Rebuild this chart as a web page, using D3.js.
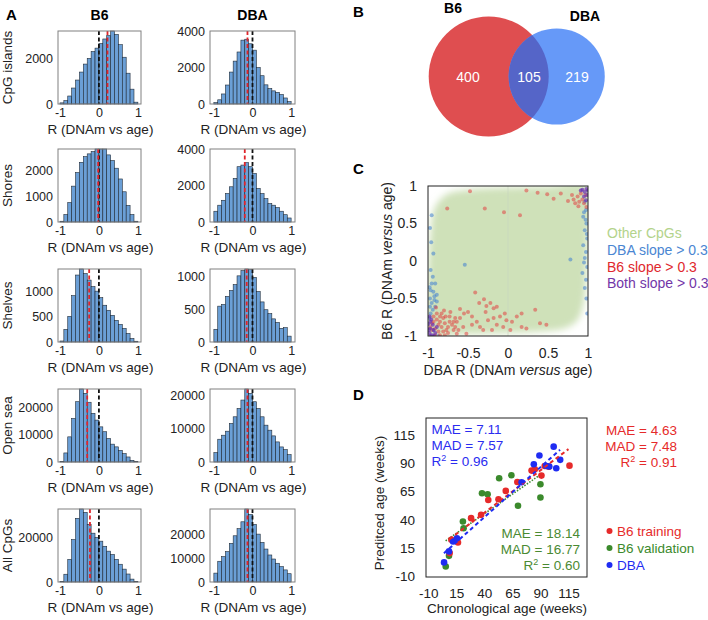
<!DOCTYPE html>
<html><head><meta charset="utf-8">
<script src="https://cdn.jsdelivr.net/npm/d3@7"></script>
<style>
body{margin:0;background:#fff;}
svg{font-family:"Liberation Sans",Arial,sans-serif;}
</style></head><body>
<svg id="fig" width="708" height="620"></svg>
<script>
// ---------------- DATA ----------------
// Panel A: histogram bins (R from -1 to 1, width 0.1)
const binStarts = [-1,-0.9,-0.8,-0.7,-0.6,-0.5,-0.4,-0.3,-0.2,-0.1,0,0.1,0.2,0.3,0.4,0.5,0.6,0.7,0.8,0.9];
const binWidth = 0.1;
const regionNames = ["CpG islands","Shores","Shelves","Open sea","All CpGs"];
const strainNames = ["B6","DBA"];

const b6CpGIslands = [50,150,350,700,1050,1400,1750,2000,2300,2450,2650,2850,3000,3200,3050,2600,2050,1350,650,80];
const dbaCpGIslands = [75,230,550,1040,1750,2350,2850,3500,3550,3300,2950,2000,1550,1050,850,720,640,520,330,130];
const b6Shores = [30,290,760,1400,1930,2330,2550,2660,2750,2850,2850,2850,2620,2400,2100,1680,1180,650,290,30];
const dbaShores = [590,920,1190,1560,1930,2390,3030,3120,3250,3030,2660,1840,1560,1280,1010,920,790,590,400,220];
const b6Shelves = [20,250,510,920,1330,1450,1360,1230,1100,1010,880,730,630,530,430,350,270,170,70,15];
const dbaShelves = [195,550,575,700,790,880,1015,1095,1120,1110,990,775,615,495,435,355,300,210,220,90];
const b6OpenSea = [250,3350,9300,16100,22300,27000,25400,22100,18000,15500,13000,11200,8700,6600,5600,4300,3100,1860,620,120];
const dbaOpenSea = [2800,6800,8000,9200,11500,13500,16000,18500,21800,20500,18000,16000,13500,11000,9500,7800,6000,4500,3700,2200];
const b6AllCpGs = [300,3500,10200,19100,28700,32900,31400,26000,22000,20100,18400,16100,13900,12400,10200,8000,5800,3600,1300,300];
const dbaAllCpGs = [3750,8750,10700,12800,16300,19500,22500,25400,30800,28500,24300,20200,16700,13900,11400,9700,7900,6500,5100,3500];

const b6Counts = [b6CpGIslands,b6Shores,b6Shelves,b6OpenSea,b6AllCpGs];
const dbaCounts = [dbaCpGIslands,dbaShores,dbaShelves,dbaOpenSea,dbaAllCpGs];
const b6YMax = [3200,2850,1450,27000,32900];
const dbaYMax = [4000,4000,1120,21800,30800];
const b6YTicks = [[0,2000],[0,1000,2000],[0,500,1000],[0,10000,20000],[0,20000]];
const dbaYTicks = [[0,2000,4000],[0,2000,4000],[0,500,1000],[0,10000,20000],[0,10000,20000]];
const histXTicks = [-1,0,1];
const b6Medians = [0.22,-0.02,-0.25,-0.3,-0.23];
const dbaMedians = [-0.13,-0.2,-0.15,-0.13,-0.13];
const nullLine = 0;

// Panel B: Venn counts
const vennLabels = ["B6","DBA"];
const vennCounts = [400,105,219];

// Panel C: scatter
const cTicks = [-1,-0.5,0,0.5,1];
const cloudOutline = [[-1.0,-1.0],[-0.6,-0.98],[0,-0.96],[0.4,-0.94],[0.7,-0.9],[0.86,-0.8],[0.95,-0.55],[0.98,-0.2],[1.0,0.3],[1.0,1.0],[0.5,0.99],[0,0.98],[-0.5,0.95],[-0.78,0.88],[-0.92,0.7],[-0.97,0.35],[-1.0,-0.2]];
const redPts = [[-0.76,0.70],[-0.475,0.93],[-0.29,0.70],[-0.05,0.65],[0.15,0.61],[0.23,0.94],[0.37,0.91],[0.49,0.89],[0.57,0.83],[0.66,0.90],[0.75,0.80],[0.80,0.88],[0.84,0.77],[0.87,0.86],[0.89,0.79],[0.91,0.90],[0.93,0.82],[0.95,0.77],[0.97,0.88],[0.98,0.72],[0.88,0.73],[0.82,0.82],
[-0.41,-0.42],[-0.36,-0.56],[-0.30,-0.51],[-0.27,-0.60],[-0.22,-0.56],[-0.18,-0.63],[-0.14,-0.61],[-0.28,-0.68],[-0.50,-0.68],[-0.45,-0.74],[-0.55,-0.70],[-0.60,-0.76],[-0.64,-0.81],[-0.66,-0.88],[-0.62,-0.92],[-0.56,-0.88],[-0.45,-0.85],[-0.39,-0.81],[-0.35,-0.88],[-0.25,-0.79],[-0.18,-0.76],[-0.10,-0.74],[-0.04,-0.70],[-0.02,-0.79],[0.05,-0.81],[-0.14,-0.85],[-0.20,-0.92],[-0.06,-0.88],[0.11,-0.74],[0.17,-0.70],[0.34,-0.65],[0.40,-0.83],[0.48,-0.85],[0.23,-0.90],[0.17,-0.88],[0.03,-0.92],[-0.31,-0.92],[-0.52,-0.97],[-0.64,-0.97],
[-0.93,-0.74],[-0.89,-0.78],[-0.85,-0.81],[-0.81,-0.76],[-0.87,-0.85],[-0.83,-0.88],[-0.79,-0.83],[-0.75,-0.88],[-0.91,-0.90],[-0.87,-0.94],[-0.81,-0.94],[-0.77,-0.92],[-0.73,-0.81],[-0.70,-0.85],[-0.68,-0.92],[-0.95,-0.83],[-0.95,-0.92],[-0.91,-0.99],[-0.85,-0.99],[-0.79,-0.99],[-0.75,-0.96],[-0.89,-0.70],[-0.83,-0.70],[-0.78,-0.74],[-0.73,-0.74],[-0.66,-0.76],[-0.97,-0.88],[-0.93,-0.81],[-0.68,-0.81],[-0.85,-0.74],[-0.80,-0.66],[-0.72,-0.68],[-0.60,-0.64],[-0.90,-0.62]];
const bluePts = [[-0.954,0.61],[-0.975,0.44],[-0.933,0.10],[-0.967,-0.12],[-0.94,-0.21],[-0.954,-0.30],[-0.91,-0.30],[-0.967,-0.39],[-0.933,-0.41],[-0.89,-0.45],[-0.975,-0.50],[-0.92,-0.52],[-0.954,-0.56],[-0.89,-0.54],[-0.975,-0.61],[-0.91,-0.61],[-0.94,-0.65],[-0.967,-0.70],[-0.98,-0.76],[-0.933,-0.92],[-0.87,-1.0],[-0.96,0.25],[-0.98,-0.35],[-0.92,-0.47],
[-0.54,-0.05],[0.78,0.02],
[0.96,0.79],[0.975,0.68],[0.94,0.59],[0.98,0.50],[0.96,0.41],[0.99,0.30],[0.94,0.21],[0.975,0.12],[0.96,0.04],[0.99,-0.08],[0.93,-0.16],[0.975,-0.25],[0.96,-0.36],[0.98,-0.50],[0.99,-0.70],[0.95,0.65],[0.97,0.55],[0.985,0.36],[0.95,-0.02]];
const purplePts = [[-0.98,-0.74],[-0.97,-0.81],[-0.94,-0.85],[-0.975,-0.90],[-0.93,-0.92],[-0.98,-0.96],[-0.91,-0.96],[-0.95,-0.99],[-0.89,-0.88],[-0.996,-0.84],[-0.97,-1.0],[-0.925,-1.0],[-0.96,-0.78],[-0.99,-0.92],
[0.93,0.95],[0.96,0.92],[0.98,0.96],[0.99,0.88],[0.95,0.86],[0.975,0.81],[0.91,0.94],[1.0,0.94]];
const cLegend = ["Other CpGs","DBA slope > 0.3","B6 slope > 0.3","Both slope > 0.3"];

// Panel D: predicted vs chronological age
const dTicks = [-10,15,40,65,90,115];
const b6TrainX = [10.6,16.5,9.1,28.2,37.1,43.5,52.6,59.1,69.4,82.1,85,90.9,93.8,97.4,115.9];
const b6TrainY = [22.4,20,10.6,41.5,44.4,57.6,58.2,65.6,73.5,83.5,84.7,79.1,87.6,87,87.9];
const b6ValX = [5.6,8.5,20.9,21.5,37.9,42.9,53.2,64.1,70,90,90];
const b6ValY = [-1.2,8.2,38.5,32.6,63.5,62.6,76.8,79.4,52.4,71.5,59.7];
const dbaX = [4.1,8.5,12.1,15.6,73.2,84.1,89.1,95.3,97.9,101.8,104.1,107.6];
const dbaY = [2.4,12.1,20.9,23.8,73.2,89.1,96.8,87.6,87.1,104.7,85.6,93];
const fitB6Train = [[9,23],[115,102.5]];
const fitDBA = [[4,10.5],[107.5,102]];
const fitB6Val = [[5.5,21.5],[90,80]];
const statsDBA = ["7.11","7.57","0.96"];
const statsB6Train = ["4.63","7.48","0.91"];
const statsB6Val = ["18.14","16.77","0.60"];
const dLegend = ["B6 training","B6 validation","DBA"];

// ---------------- DRAW ----------------
const svg = d3.select("#fig");
const fmt = d => String(d);
const panelLetter = (t,x,y) => svg.append("text").attr("x",x).attr("y",y).text(t)
  .attr("font-weight","bold").attr("font-size",15);

// ----- Panel A -----
panelLetter("A",6,20);
const histCols = [{x0:58,x1:141,dom:[-1.05,1.08]},{x0:210,x1:295,dom:[-1.1,1.1]}];
const rowTops = [31,149,269,389,509];
const histH = 73;
strainNames.forEach((s,c)=>{
  svg.append("text").attr("x",(histCols[c].x0+histCols[c].x1)/2).attr("y",20)
    .attr("text-anchor","middle").attr("font-weight","bold").attr("font-size",14).text(s);
});
regionNames.forEach((name,r)=>{
  const top = rowTops[r];
  svg.append("text").attr("transform",`translate(12,${top+histH/2}) rotate(-90)`)
    .attr("text-anchor","middle").attr("font-size",13.5).attr("fill","#222").text(name);
  [0,1].forEach(c=>{
    const col = histCols[c];
    const counts = c===0? b6Counts[r] : dbaCounts[r];
    const ymax = c===0? b6YMax[r] : dbaYMax[r];
    const ticks = c===0? b6YTicks[r] : dbaYTicks[r];
    const med = c===0? b6Medians[r] : dbaMedians[r];
    const x = d3.scaleLinear().domain(col.dom).range([col.x0,col.x1]);
    const y = d3.scaleLinear().domain([0,ymax]).range([top+histH,top]);
    const g = svg.append("g");
    g.selectAll("rect.bar").data(binStarts).join("rect").attr("class","bar")
      .attr("x",d=>x(d)).attr("width",d=>x(d+binWidth)-x(d))
      .attr("y",(d,i)=>y(Math.min(counts[i],ymax))).attr("height",(d,i)=>y(0)-y(Math.min(counts[i],ymax)))
      .attr("fill","#6b9fd6").attr("stroke","#1f2a36").attr("stroke-width",0.6);
    g.append("line").attr("x1",x(nullLine)).attr("x2",x(nullLine)).attr("y1",top).attr("y2",top+histH)
      .attr("stroke","#111").attr("stroke-width",1.8).attr("stroke-dasharray","4,2.5");
    g.append("line").attr("x1",x(med)).attr("x2",x(med)).attr("y1",top).attr("y2",top+histH)
      .attr("stroke","#e0242a").attr("stroke-width",1.8).attr("stroke-dasharray","4,2.5");
    g.append("rect").attr("x",col.x0).attr("y",top).attr("width",col.x1-col.x0).attr("height",histH)
      .attr("fill","none").attr("stroke","#808080").attr("stroke-width",1);
    const ya = g.append("g").attr("transform",`translate(${col.x0},0)`)
      .call(d3.axisLeft(y).tickValues(ticks).tickSize(0).tickPadding(5).tickFormat(fmt));
    ya.select(".domain").remove();
    ya.selectAll("text").attr("font-size",12.5).attr("fill","#222").attr("font-family",null);
    const xa = g.append("g").attr("transform",`translate(0,${top+histH})`)
      .call(d3.axisBottom(x).tickValues(histXTicks).tickSize(0).tickPadding(4).tickFormat(fmt));
    xa.select(".domain").remove();
    xa.selectAll("text").attr("font-size",12.5).attr("fill","#222").attr("font-family",null);
    g.append("text").attr("x",(col.x0+col.x1)/2+1).attr("y",top+histH+30).attr("text-anchor","middle")
      .attr("font-size",13.5).attr("fill","#222").text("R (DNAm vs age)");
  });
});

// ----- Panel B -----
panelLetter("B",353,17);
const vennX = d3.scaleLinear().domain([0,1]).range([488.7,556.7]);
const rScale = d3.scaleSqrt().domain([0,505]).range([0,60]);
const rB6 = rScale(vennCounts[0]+vennCounts[1]);
const rDBA = rScale(vennCounts[1]+vennCounts[2]);
const vy = 76.5;
const defs = svg.append("defs");
defs.append("clipPath").attr("id","dbaClip").append("circle").attr("cx",vennX(1)).attr("cy",vy).attr("r",rDBA);
svg.append("circle").attr("cx",vennX(0)).attr("cy",vy).attr("r",rB6).attr("fill","#df4e50");
svg.append("circle").attr("cx",vennX(1)).attr("cy",vy).attr("r",rDBA).attr("fill","#6699f8");
svg.append("circle").attr("cx",vennX(0)).attr("cy",vy).attr("r",rB6).attr("fill","#5565c8").attr("clip-path","url(#dbaClip)");
svg.append("text").attr("x",453).attr("y",13).attr("text-anchor","middle").attr("font-weight","bold").attr("font-size",14).text(vennLabels[0]);
svg.append("text").attr("x",585).attr("y",21).attr("text-anchor","middle").attr("font-weight","bold").attr("font-size",14).text(vennLabels[1]);
[[468,vennCounts[0]],[529,vennCounts[1]],[577,vennCounts[2]]].forEach(([xx,v])=>{
  svg.append("text").attr("x",xx).attr("y",vy+5).attr("text-anchor","middle").attr("fill","#fff")
    .attr("font-size",14).text(v);
});

// ----- Panel C -----
panelLetter("C",353,174);
const cx = d3.scaleLinear().domain([-1,1]).range([428,588]);
const cy = d3.scaleLinear().domain([-1,1]).range([336,186]);
defs.append("clipPath").attr("id","cClip").append("rect").attr("x",428).attr("y",186).attr("width",160).attr("height",150);
const blur = defs.append("filter").attr("id","cloudBlur").attr("x","-20%").attr("y","-20%").attr("width","140%").attr("height","140%");
blur.append("feGaussianBlur").attr("stdDeviation",3.5);
const cg = svg.append("g").attr("clip-path","url(#cClip)");
cg.append("path").datum(cloudOutline)
  .attr("d",d3.line().x(d=>cx(d[0])).y(d=>cy(d[1])).curve(d3.curveCatmullRomClosed))
  .attr("fill","#cfe1b9").attr("filter","url(#cloudBlur)");
cg.append("line").attr("x1",cx(0)).attr("x2",cx(0)).attr("y1",186).attr("y2",336).attr("stroke","#c8d4c0").attr("stroke-width",0.6);
const drawPts = (pts,col,op)=> cg.append("g").selectAll("circle").data(pts).join("circle")
  .attr("cx",d=>cx(d[0])).attr("cy",d=>cy(d[1])).attr("r",2).attr("fill",col).attr("fill-opacity",op);
drawPts(bluePts,"#3f7fd2",0.55);
drawPts(redPts,"#e33338",0.5);
drawPts(purplePts,"#6a2fb0",0.7);
svg.append("rect").attr("x",428).attr("y",186).attr("width",160).attr("height",150).attr("fill","none").attr("stroke","#222").attr("stroke-width",1);
const cxa = svg.append("g").attr("transform","translate(0,336)").call(d3.axisBottom(cx).tickValues(cTicks).tickSize(0).tickPadding(12).tickFormat(fmt));
cxa.select(".domain").remove();
cxa.selectAll("text").attr("font-size",14).attr("fill","#222").attr("font-family",null);
const cya = svg.append("g").attr("transform","translate(428,0)").call(d3.axisLeft(cy).tickValues(cTicks).tickSize(0).tickPadding(11).tickFormat(fmt));
cya.select(".domain").remove();
cya.selectAll("text").attr("font-size",14).attr("fill","#222").attr("font-family",null);
const cxl = svg.append("text").attr("x",508).attr("y",375).attr("text-anchor","middle").attr("font-size",14).attr("fill","#222");
cxl.append("tspan").text("DBA R (DNAm ");
cxl.append("tspan").attr("font-style","italic").text("versus");
cxl.append("tspan").text(" age)");
const cyl = svg.append("text").attr("transform","translate(392,261) rotate(-90)").attr("text-anchor","middle").attr("font-size",14).attr("fill","#222");
cyl.append("tspan").text("B6 R (DNAm ");
cyl.append("tspan").attr("font-style","italic").text("versus");
cyl.append("tspan").text(" age)");
const cLegCols = ["#b3d38b","#4a86d2","#e0282d","#7236a8"];
cLegend.forEach((t,i)=>{
  svg.append("text").attr("x",607).attr("y",238+i*16.8).attr("font-size",14).attr("fill",cLegCols[i]).text(t);
});

// ----- Panel D -----
panelLetter("D",353,400);
const dx = d3.scaleLinear().domain([-12,131.5]).range([426,587]);
const dy = d3.scaleLinear().domain([-10.5,130]).range([577,418]);
const dg = svg.append("g");
const fitLine = d3.line().x(d=>dx(d[0])).y(d=>dy(d[1]));
dg.append("path").datum(fitB6Val).attr("d",fitLine).attr("stroke","#3f8a30").attr("stroke-width",1.6).attr("stroke-dasharray","1.5,1.5").attr("fill","none");
const ptsD = (xs,ys,col)=> dg.append("g").selectAll("circle").data(xs).join("circle")
  .attr("cx",d=>dx(d)).attr("cy",(d,i)=>dy(ys[i])).attr("r",3.3).attr("fill",col);
ptsD(b6ValX,b6ValY,"#3b8a2c");
ptsD(b6TrainX,b6TrainY,"#e62a2a");
ptsD(dbaX,dbaY,"#1f2cf2");
dg.append("path").datum(fitB6Train).attr("d",fitLine).attr("stroke","#e62a2a").attr("stroke-width",2).attr("stroke-dasharray","4,3").attr("fill","none");
dg.append("path").datum(fitDBA).attr("d",fitLine).attr("stroke","#1f2cf2").attr("stroke-width",2).attr("stroke-dasharray","4,3").attr("fill","none");
svg.append("rect").attr("x",426).attr("y",418).attr("width",161).attr("height",159).attr("fill","none").attr("stroke","#222").attr("stroke-width",1);
const dxa = svg.append("g").attr("transform","translate(0,577)").call(d3.axisBottom(dx).tickValues(dTicks).tickSize(0).tickPadding(11).tickFormat(fmt));
dxa.select(".domain").remove();
dxa.selectAll("text").attr("font-size",13.5).attr("fill","#222").attr("font-family",null);
const dya = svg.append("g").attr("transform","translate(426,0)").call(d3.axisLeft(dy).tickValues(dTicks).tickSize(0).tickPadding(11).tickFormat(fmt));
dya.select(".domain").remove();
dya.selectAll("text").attr("font-size",13.5).attr("fill","#222").attr("font-family",null);
svg.append("text").attr("x",507).attr("y",613).attr("text-anchor","middle").attr("font-size",13.5).attr("fill","#222").text("Chronological age (weeks)");
svg.append("text").attr("transform","translate(384,503) rotate(-90)").attr("text-anchor","middle").attr("font-size",13.5).attr("fill","#222").text("Preditced age (weeks)");

const statBlock = (vals,x,y0,anchor,col)=>{
  const labels = ["MAE = ","MAD = ","R"];
  vals.forEach((v,i)=>{
    const t = svg.append("text").attr("x",x).attr("y",y0+i*16.2).attr("text-anchor",anchor).attr("font-size",13.5).attr("fill",col);
    if(i<2){ t.text(labels[i]+v); }
    else { t.append("tspan").text("R"); t.append("tspan").attr("font-size",9).attr("dy",-5).text("2"); t.append("tspan").attr("dy",5).text(" = "+v); }
  });
};
statBlock(statsDBA,431.5,434,"start","#2a2cf0");
statBlock(statsB6Val,580,537.5,"end","#4a8a32");
statBlock(statsB6Train,677,435,"end","#e62a2a");
const dLegCols = ["#e62a2a","#3b8a2c","#1f2cf2"];
dLegend.forEach((t,i)=>{
  svg.append("circle").attr("cx",609.5).attr("cy",531+i*17).attr("r",3).attr("fill",dLegCols[i]);
  svg.append("text").attr("x",617).attr("y",536+i*17).attr("font-size",13.5).attr("fill",dLegCols[i]).text(t);
});
</script>
</body></html>
